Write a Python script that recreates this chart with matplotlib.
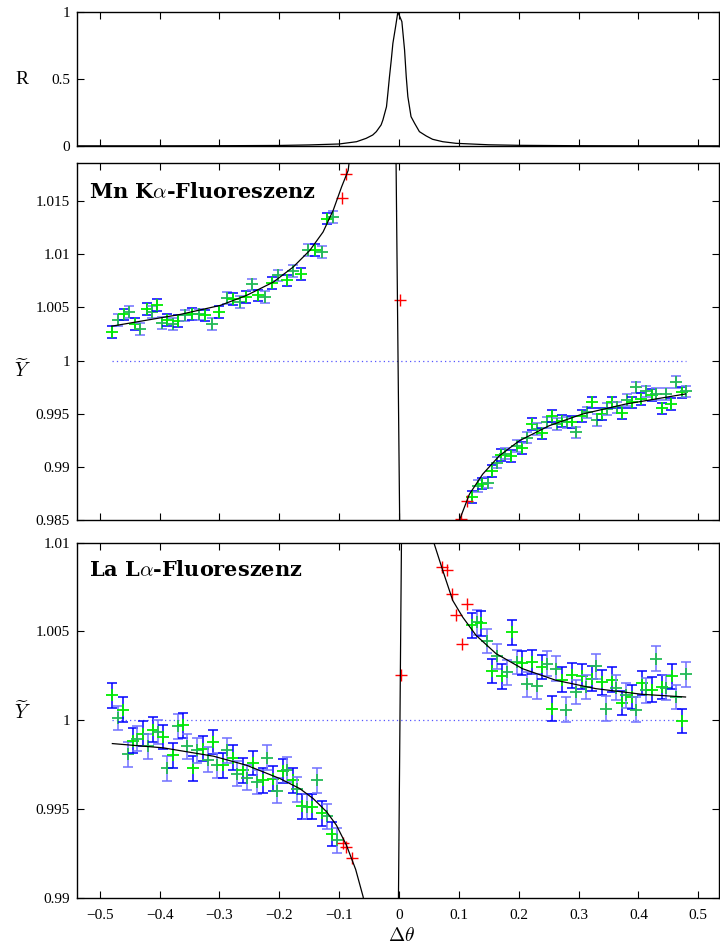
import matplotlib
matplotlib.use("Agg")
import matplotlib.pyplot as plt

plt.rcParams["font.family"] = ["Liberation Serif", "DejaVu Serif"]
plt.rcParams["mathtext.fontset"] = "cm"

# reflectivity curve (top panel)
r_x = [-0.538, -0.4, -0.3, -0.2, -0.15, -0.1, -0.071, -0.055, -0.044, -0.038, -0.030, -0.027,
       -0.021, -0.0187, -0.016, -0.013, -0.0103, -0.0058, -0.002, 0.0047, 0.0092, 0.012,
       0.0147, 0.020, 0.026, 0.034, 0.0453, 0.056, 0.073, 0.095, 0.15, 0.2, 0.3, 0.4, 0.538]
r_y = [0.001, 0.001, 0.002, 0.004, 0.008, 0.015, 0.032, 0.057, 0.082, 0.107, 0.157, 0.194,
       0.293, 0.393, 0.517, 0.642, 0.766, 0.89, 1.0, 0.928, 0.716, 0.517,
       0.368, 0.219, 0.169, 0.107, 0.075, 0.050, 0.032, 0.020, 0.009, 0.005, 0.002, 0.001, 0.001]

# Mn K-alpha fluorescence yield
mn_x = [-0.479, -0.469, -0.460, -0.452, -0.441, -0.4325, -0.421, -0.413, -0.405, -0.396,
        -0.387, -0.378, -0.369, -0.3575, -0.346, -0.335, -0.324, -0.312, -0.300, -0.288,
        -0.277, -0.266, -0.256, -0.246, -0.235, -0.224, -0.213, -0.202, -0.188, -0.177,
        -0.163, -0.152, -0.141, -0.128, -0.121, -0.110,
        0.122, 0.1314, 0.1386, 0.148, 0.155, 0.163, 0.170, 0.1775, 0.187, 0.1964,
        0.205, 0.2136, 0.222, 0.230, 0.2386, 0.2464, 0.255, 0.2647, 0.273, 0.281,
        0.2886, 0.2964, 0.3053, 0.3136, 0.322, 0.3303, 0.3386, 0.347, 0.3553, 0.3636,
        0.372, 0.380, 0.3886, 0.3964, 0.4047, 0.413, 0.422, 0.4297, 0.4386, 0.4464,
        0.4547, 0.463, 0.472, 0.4797]
mn_y = [1.00267, 1.00384, 1.00434, 1.00456, 1.00346, 1.00299, 1.00488, 1.00456, 1.00525, 1.00352,
        1.00384, 1.00346, 1.00371, 1.00425, 1.00440, 1.00434, 1.00425, 1.00346, 1.00456, 1.00591,
        1.00582, 1.00550, 1.00597, 1.00717, 1.00613, 1.00597, 1.00729, 1.00802, 1.00755, 1.00842,
        1.00818, 1.01044, 1.01044, 1.01022, 1.01337, 1.01352,
        0.98717, 0.98821, 0.98842, 0.98852, 0.98962, 0.99040, 0.99110, 0.99125, 0.99104, 0.99198,
        0.99176, 0.99276, 0.99403, 0.99355, 0.99314, 0.99418, 0.99481, 0.99403, 0.99434, 0.99418,
        0.99425, 0.99324, 0.99481, 0.99512, 0.99607, 0.99440, 0.99497, 0.99544, 0.99607, 0.99560,
        0.99503, 0.99629, 0.99607, 0.99748, 0.99639, 0.99710, 0.99679, 0.99686, 0.99550, 0.99686,
        0.99591, 0.99796, 0.99701, 0.99710]
mn_err = 0.00055
mn_red_x = [-0.095, -0.089, 0.001, 0.1036, 0.113]
mn_red_y = [1.01531, 1.01755, 1.0057, 0.98507, 0.98679]
mn_fit_x = [-0.480, -0.366, -0.299, -0.255, -0.210, -0.177, -0.149, -0.127, -0.110, -0.096,
            -0.085, -0.060, -0.010, 0.006, 0.090, 0.1008, 0.1175, 0.1397, 0.1675, 0.2008,
            0.2508, 0.3064, 0.3786, 0.4786]
mn_fit_y = [1.00324, 1.00434, 1.00519, 1.00613, 1.00739, 1.00880, 1.01038, 1.01210, 1.01415, 1.01635,
            1.01790, 1.03, 1.0466, 0.9570, 0.982, 0.98497, 0.98742, 0.98931, 0.99104, 0.99245,
            0.99387, 0.99497, 0.99591, 0.99686]

# La L-alpha fluorescence yield
la_x = [-0.479, -0.470, -0.462, -0.4536, -0.4447, -0.437, -0.4286, -0.420, -0.411, -0.403,
        -0.3947, -0.387, -0.378, -0.370, -0.3614, -0.3536, -0.3447, -0.337, -0.328, -0.320,
        -0.3114, -0.3036, -0.2947, -0.287, -0.278, -0.270, -0.2614, -0.2536, -0.2447, -0.237,
        -0.228, -0.2203, -0.2114, -0.2036, -0.1947, -0.187, -0.178, -0.170, -0.1614, -0.1536,
        -0.1447, -0.137, -0.128, -0.120, -0.1114, -0.1036,
        0.122, 0.1297, 0.137, 0.1464, 0.155, 0.163, 0.172, 0.1797, 0.1886, 0.1964,
        0.2053, 0.213, 0.222, 0.2297, 0.2386, 0.2464, 0.2553, 0.263, 0.272, 0.2797,
        0.2886, 0.2964, 0.3053, 0.313, 0.322, 0.3297, 0.3386, 0.3464, 0.3553, 0.363,
        0.372, 0.3797, 0.3886, 0.3964, 0.4053, 0.413, 0.422, 0.4297, 0.4386, 0.4464,
        0.4553, 0.463, 0.472, 0.4797]
la_y = [1.00140, 1.00013, 1.00060, 0.99809, 0.99884, 0.99897, 0.99925, 0.99854, 0.99948, 0.99934,
        0.99906, 0.99729, 0.99803, 0.99966, 0.99972, 0.99854, 0.99729, 0.99831, 0.99841, 0.99779,
        0.99878, 0.99747, 0.99747, 0.99831, 0.99790, 0.99700, 0.99719, 0.99678, 0.99760, 0.99653,
        0.99663, 0.99790, 0.99672, 0.99603, 0.99715, 0.99723, 0.99663, 0.99611, 0.99517, 0.99513,
        0.99513, 0.99663, 0.99476, 0.99461, 0.99360, 0.99326,
        1.00534, 1.00552, 1.00547, 1.00446, 1.00277, 1.00360, 1.00247, 1.00271, 1.00496, 1.00328,
        1.00322, 1.00202, 1.00328, 1.00191, 1.00300, 1.00319, 1.00066, 1.00290, 1.00229, 1.00060,
        1.00253, 1.00159, 1.00247, 1.00187, 1.00234, 1.00303, 1.00215, 1.00066, 1.00229, 1.00184,
        1.00097, 1.00140, 1.00131, 1.00060, 1.00210, 1.00169, 1.00172, 1.00347, 1.00187, 1.00184,
        1.00247, 1.00131, 0.99996, 1.00258]
la_err = 0.0007
la_red_x = [-0.0936, -0.088, -0.078, 0.0036, 0.072, 0.0797, 0.0886, 0.0953, 0.1047, 0.113]
la_red_y = [0.99307, 0.99288, 0.99223, 1.00253, 1.00861, 1.00847, 1.00712, 1.00590, 1.00431, 1.00652]
la_fit_x = [-0.479, -0.394, -0.310, -0.2547, -0.199, -0.166, -0.1436, -0.121, -0.1047, -0.088,
            -0.0725, -0.060, -0.040, -0.004, 0.010, 0.040, 0.059, 0.073, 0.0897, 0.1064,
            0.1286, 0.162, 0.2064, 0.262, 0.3286, 0.4064, 0.4786]
la_fit_y = [0.99869, 0.99845, 0.99798, 0.99747, 0.99672, 0.99616, 0.99560, 0.99485, 0.99410, 0.99298,
            0.99161, 0.99007, 0.985, 0.978, 1.034, 1.015, 1.0099, 1.00843, 1.00674, 1.00580,
            1.00478, 1.00375, 1.00290, 1.00225, 1.00178, 1.00146, 1.00131]

xticks = [-0.5, -0.4, -0.3, -0.2, -0.1, 0, 0.1, 0.2, 0.3, 0.4, 0.5]
xlabels = ["\u22120.5", "\u22120.4", "\u22120.3", "\u22120.2", "\u22120.1",
           "0", "0.1", "0.2", "0.3", "0.4", "0.5"]
mn_ticks = [0.985, 0.99, 0.995, 1, 1.005, 1.01, 1.015]
mn_labels = ["0.985", "0.99", "0.995", "1", "1.005", "1.01", "1.015"]
la_ticks = [0.99, 0.995, 1, 1.005, 1.01]
la_labels = ["0.99", "0.995", "1", "1.005", "1.01"]

fig = plt.figure(figsize=(7.2, 9.48), dpi=100)
ax_r = fig.add_axes([0.107, 0.846, 0.892, 0.1414])
ax_mn = fig.add_axes([0.107, 0.4515, 0.892, 0.3766])
ax_la = fig.add_axes([0.107, 0.0527, 0.892, 0.375])

for ax in (ax_r, ax_mn, ax_la):
    ax.set_xlim(-0.538, 0.535)
    ax.set_xticks(xticks)
    ax.tick_params(direction="in", top=True, right=True, length=5, width=0.8,
                   labelsize=11, pad=5)
    for s in ax.spines.values():
        s.set_linewidth(1.0)

ax_r.plot(r_x, r_y, color="black", lw=0.9)
ax_r.set_ylim(0, 1)
ax_r.set_yticks([0, 0.5, 1])
ax_r.set_yticklabels(["0", "0.5", "1"])
ax_r.set_xticklabels([])


def draw_data(ax, xs, ys, err, rx, ry, fx, fy):
    ax.plot([-0.48, 0.48], [1, 1], color="#5555ff", lw=0.9, ls=(0, (1, 2.5)))
    for i, (x, y) in enumerate(zip(xs, ys)):
        if i % 2 == 0:
            ecol, mcol = "#0000ff", "#00ee00"
        else:
            ecol, mcol = "#7070ff", "#22bb55"
        ax.errorbar(x, y, yerr=err, fmt="none", ecolor=ecol, elinewidth=1.1,
                    capsize=3.3, capthick=1.1)
        ax.plot(x, y, marker="+", color=mcol, ms=8, mew=1.3, ls="none")
    ax.plot(rx, ry, marker="+", color="red", ms=8, mew=1.0, ls="none")
    ax.plot(fx, fy, color="black", lw=0.9)


draw_data(ax_mn, mn_x, mn_y, mn_err, mn_red_x, mn_red_y, mn_fit_x, mn_fit_y)
ax_mn.set_ylim(0.985, 1.0186)
ax_mn.set_yticks(mn_ticks)
ax_mn.set_yticklabels(mn_labels)
ax_mn.set_xticklabels([])

draw_data(ax_la, la_x, la_y, la_err, la_red_x, la_red_y, la_fit_x, la_fit_y)
ax_la.set_ylim(0.99, 1.01)
ax_la.set_yticks(la_ticks)
ax_la.set_yticklabels(la_labels)
ax_la.set_xticklabels(xlabels)
ax_la.tick_params(axis="x", pad=8)

title_font = dict(family="DejaVu Serif", weight="bold", fontsize=15, ha="left", va="center")
fig.text(0.1236, 0.7975, r"Mn K$\alpha$-Fluoreszenz", **title_font)
fig.text(0.1236, 0.3987, r"La L$\alpha$-Fluoreszenz", **title_font)

fig.text(22 / 720, 1 - 79 / 948, "R", fontsize=14, ha="center", va="center")
fig.text(22 / 720, 1 - 370 / 948, r"$\widetilde{Y}$", fontsize=14, ha="center", va="center")
fig.text(22 / 720, 1 - 712 / 948, r"$\widetilde{Y}$", fontsize=14, ha="center", va="center")
fig.text(402 / 720, 1 - 936 / 948, r"$\Delta\theta$", fontsize=14, ha="center", va="center")

fig.savefig("out.png", dpi=100)
